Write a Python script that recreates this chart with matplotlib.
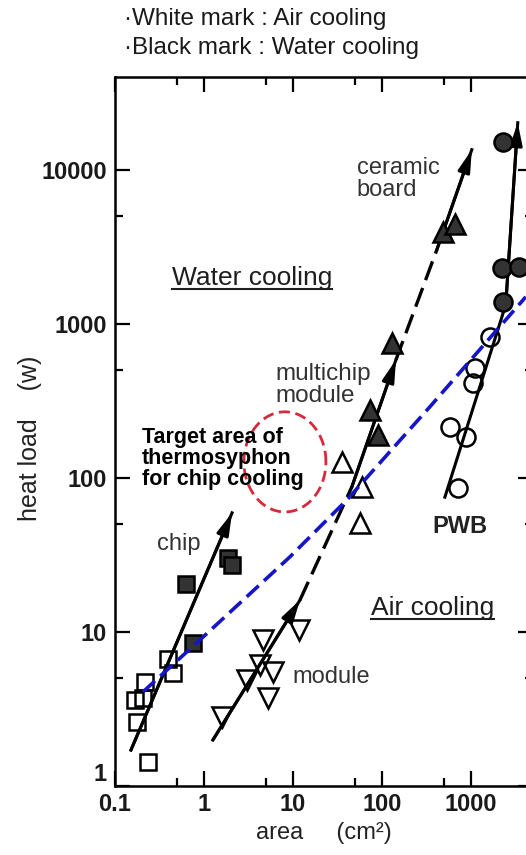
import numpy as np
import matplotlib
matplotlib.use("Agg")
import matplotlib.pyplot as plt
from matplotlib.lines import Line2D
from matplotlib.ticker import NullFormatter

# ---- data (area cm2, heat load W) ----
chip_open_x = [0.177, 0.168, 0.206, 0.217, 0.235, 0.394, 0.449]
chip_open_y = [2.6, 3.6, 3.7, 4.7, 1.43, 6.7, 5.4]
chip_black_x = [0.628, 1.86, 2.07, 0.75]
chip_black_y = [20.5, 30.2, 27.2, 8.5]

module_x = [1.59, 3.04, 4.26, 5.96, 5.23, 4.6, 11.7]
module_y = [2.8, 4.9, 6.1, 5.5, 3.7, 8.9, 10.3]

mcm_open_x = [35.6, 59.6, 56.6]
mcm_open_y = [127, 87.5, 51]
mcm_black_x = [73, 90, 129]
mcm_black_y = [277, 190, 753]

ceramic_x = [484, 661]
ceramic_y = [3960, 4460]

pwb_open_x = [714, 581, 879, 1052, 1109, 1633]
pwb_open_y = [86, 214, 185, 414, 518, 824]
pwb_black_x = [2290, 2230, 3460, 2290]
pwb_black_y = [15200, 2310, 2345, 1390]

# trend lines
chip_line_x, chip_line_y = [0.151, 2.07], [1.71, 59.3]
module_line_x, module_line_y = [1.26, 12.0], [1.99, 16.1]
link1_x, link1_y = [12.0, 46], [16.1, 87.5]
mcm_line_x, mcm_line_y = [46, 144], [87.5, 584]
link2_x, link2_y = [144, 415], [584, 3025]
ceramic_line_x, ceramic_line_y = [415, 1026], [3025, 13500]
pwb_line_x, pwb_line_y = [511, 2470, 3370], [75, 1330, 20200]

# blue boundary between air and water cooling
bound_x = [0.206, 0.90, 9.25, 40.5, 346, 4150]
bound_y = [4.08, 8.87, 30.7, 72, 289, 1497]

# target area (log-centre and half-widths in decades)
target_cx, target_cy = 8.13, 127
target_ax, target_ay = 0.461, 0.325

xticks = [0.1, 1, 10, 100, 1000]
xticklabels = ["0.1", "1", "10", "100", "1000"]
yticks = [1, 10, 100, 1000, 10000]
yticklabels = ["1", "10", "100", "1000", "10000"]
xminor = [0.5, 5, 50, 500]
yminor = [5, 50, 500, 5000]

plt.rcParams['font.family'] = ['Liberation Sans', 'DejaVu Sans']

fig = plt.figure(figsize=(5.26, 8.55), dpi=100)
ax = fig.add_axes([115 / 526, 69 / 855, 418 / 526, 709 / 855])
ax.set_xscale('log')
ax.set_yscale('log')
ax.set_xlim(0.1, 5000)
ax.set_ylim(1, 40000)

# lines
lw = 2.2
ax.plot(chip_line_x, chip_line_y, color='k', lw=lw, zorder=3)
ax.plot(module_line_x, module_line_y, color='k', lw=lw, zorder=3)
ax.plot(mcm_line_x, mcm_line_y, color='k', lw=lw, zorder=3)
ax.plot(ceramic_line_x, ceramic_line_y, color='k', lw=lw, zorder=3)
ax.plot(pwb_line_x, pwb_line_y, color='k', lw=lw, zorder=3)
for lx, ly in [(link1_x, link1_y), (link2_x, link2_y)]:
    ax.plot(lx, ly, color='k', lw=2.4, dashes=(6, 2.5), zorder=3)

# arrowheads on the end of each solid line
for lx, ly in [(chip_line_x, chip_line_y), (module_line_x, module_line_y),
               (mcm_line_x, mcm_line_y), (ceramic_line_x, ceramic_line_y),
               (pwb_line_x, pwb_line_y)]:
    ax.annotate('', xy=(lx[-1], ly[-1]), xytext=(lx[-2], ly[-2]),
                arrowprops=dict(arrowstyle='-|>,head_length=1.1,head_width=0.3',
                                color='k', lw=lw, mutation_scale=12,
                                shrinkA=0, shrinkB=0), zorder=3)

# markers (white = air cooling, black = water cooling)
mk = dict(ls='none', mew=1.8, mec='k', zorder=4)
dark = '#333333'
ax.plot(chip_open_x, chip_open_y, marker='s', ms=12, mfc='none', **mk)
ax.plot(chip_black_x, chip_black_y, marker='s', ms=12, mfc=dark, **mk)
ax.plot(module_x, module_y, marker='v', ms=14, mfc='none', **mk)
ax.plot(mcm_open_x, mcm_open_y, marker='^', ms=14, mfc='none', **mk)
ax.plot(mcm_black_x, mcm_black_y, marker='^', ms=14, mfc=dark, **mk)
ax.plot(ceramic_x, ceramic_y, marker='^', ms=14, mfc=dark, **mk)
ax.plot(pwb_open_x, pwb_open_y, marker='o', ms=13, mfc='none', **mk)
ax.plot(pwb_black_x, pwb_black_y, marker='o', ms=13, mfc=dark, **mk)

# blue boundary
ax.plot(bound_x, bound_y, color='#1414c8', lw=2.6, dashes=(4.5, 2), zorder=5)

# red dashed target ellipse (drawn in log space)
t = np.linspace(0, 2 * np.pi, 200)
ex = 10 ** (np.log10(target_cx) + target_ax * np.cos(t))
ey = 10 ** (np.log10(target_cy) + target_ay * np.sin(t))
ax.plot(ex, ey, color='#d42a3a', lw=2.0, dashes=(4, 2), zorder=5)

# ticks
ax.set_xticks(xticks, labels=xticklabels)
ax.set_yticks(yticks, labels=yticklabels)
ax.set_xticks(xminor, minor=True)
ax.set_yticks(yminor, minor=True)
ax.xaxis.set_minor_formatter(NullFormatter())
ax.yaxis.set_minor_formatter(NullFormatter())
ax.tick_params(which='both', direction='in', top=True, right=True, width=1.6)
ax.tick_params(which='major', length=11)
ax.tick_params(axis='y', which='major', pad=6)
ax.tick_params(axis='x', which='major', pad=5)
ax.tick_params(which='minor', length=6)
for lab in ax.get_xticklabels() + ax.get_yticklabels():
    lab.set_family('Liberation Sans')
    lab.set_fontweight('bold')
    lab.set_fontsize(17)
    lab.set_color('#1a1a1a')
ax.get_yticklabels()[0].set_verticalalignment('bottom')
for s in ax.spines.values():
    s.set_linewidth(1.8)

ax.set_xlabel('area     (cm²)', fontsize=17, color='#222222', labelpad=4)
ax.set_ylabel('heat load    (w)', fontsize=18, color='#222222')
ax.yaxis.set_label_coords(-0.175, 0.49)

# annotations
tc = '#1e1e1e'
water = ax.text(0.436, 1790, 'Water cooling', fontsize=19, color=tc, va='baseline')
air = ax.text(75.2, 12.9, 'Air cooling', fontsize=19, color=tc, va='baseline')
ax.text(0.296, 34, 'chip', fontsize=17, color='#333333', va='baseline')
ax.text(10, 4.67, 'module', fontsize=17, color='#333333', va='baseline')
ax.text(6.28, 558, 'multichip\nmodule', fontsize=17.5, color='#333333', va='top',
        linespacing=1.0)
ax.text(52.4, 12100, 'ceramic\nboard', fontsize=17, color='#333333', va='top',
        linespacing=1.0)
ax.text(374, 44, 'PWB', fontsize=17, color='#222222', va='baseline',
        fontweight='bold')
ax.text(0.201, 214, 'Target area of\nthermosyphon\nfor chip cooling',
        fontsize=15.5, fontweight='bold', color='k', va='top', linespacing=1.0,
        zorder=6)

fig.text(124 / 526, 1 - 8 / 855, '·White mark : Air cooling', fontsize=17.5,
         va='top', color='#1a1a1a')
fig.text(124 / 526, 1 - 37 / 855, '·Black mark : Water cooling', fontsize=17.5,
         va='top', color='#1a1a1a')

# underline the two region labels
fig.canvas.draw()
r = fig.canvas.get_renderer()
inv = fig.transFigure.inverted()
for txt in (water, air):
    bb = txt.get_window_extent(r)
    (x0, y0), (x1, _) = inv.transform([(bb.x0, bb.y0 + 1), (bb.x1, bb.y0 + 1)])
    fig.add_artist(Line2D([x0, x1], [y0, y0], color=tc, lw=1.5))

fig.savefig('out.png', dpi=100)
